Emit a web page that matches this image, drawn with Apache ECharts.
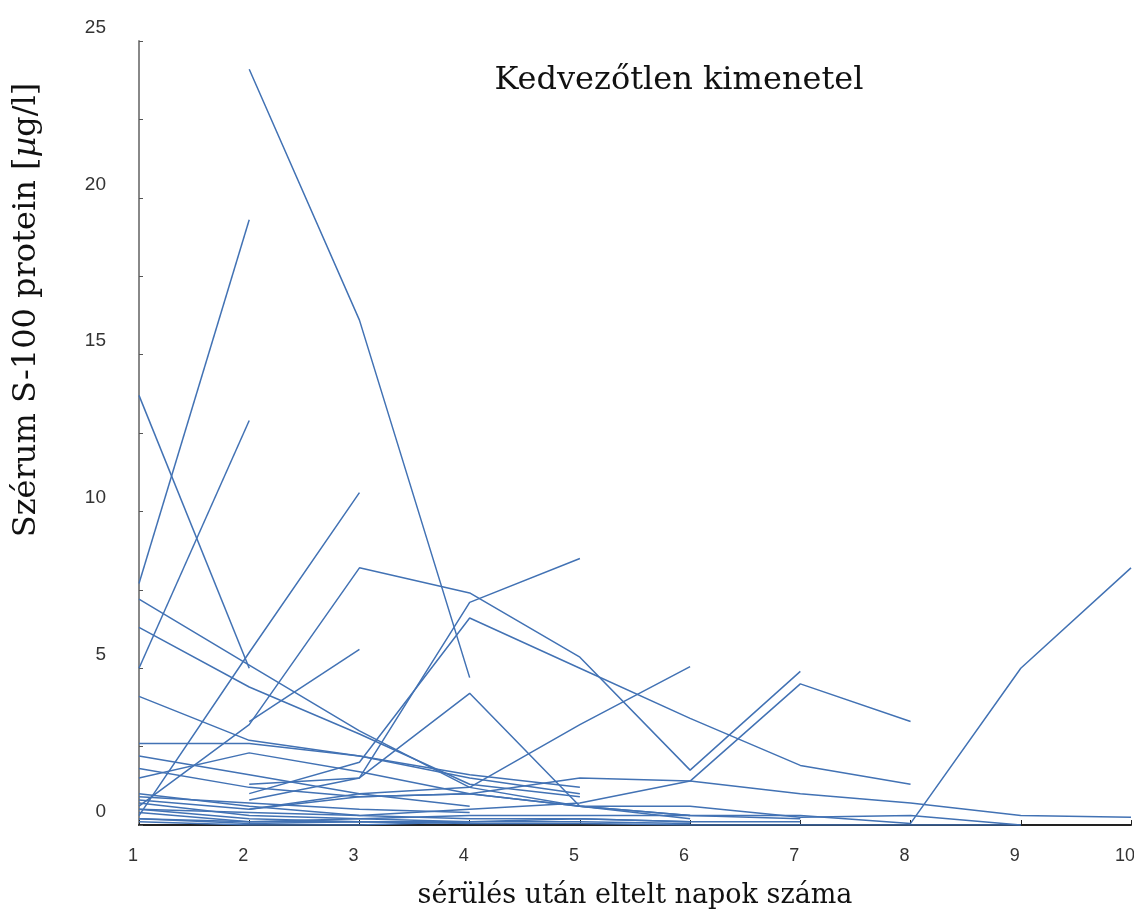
<!DOCTYPE html>
<html>
<head>
<meta charset="utf-8">
<script src="https://cdn.jsdelivr.net/npm/echarts@6/dist/echarts.min.js"></script>
<style>html,body{margin:0;padding:0;background:#fff;}#c{width:1134px;height:916px;}</style>
</head>
<body>
<div id="c"></div>
<script>
// Days after injury (x axis)
const days = [1, 2, 3, 4, 5, 6, 7, 8, 9, 10];
// Y axis tick values
const yTicks = [0, 5, 10, 15, 20, 25];
// Each patient: S-100 values per day (null = no measurement)
const p01 = [null, 24.1, 16.1, 4.7];
const p02 = [7.7, 19.3];
const p03 = [13.7, 5.0];
const p04 = [5.0, 12.9];
const p05 = [0.3, 5.5, 10.6];
const p06 = [null, 3.3, 5.6];
const p07 = [0.6, 3.2, 8.2, 7.4, 5.35, 1.75, 4.9];
const p08 = [7.2, 5.1, 3.0, 1.2, 0.6, 0.3, 0.2];
const p09 = [6.3, 4.4, 2.9, 1.3, 0.9];
const p10 = [4.1, 2.7, 2.2, 1.6, 1.2];
const p11 = [2.6, 2.6, 2.2, 1.5, 1.0];
const p12 = [1.5, 2.3, 1.7, 1.0, 0.6, 0.2];
const p13 = [2.2, 1.6, 1.0, 1.2, 3.2, 5.05];
const p14 = [null, 1.3, 1.5, 7.1, 8.5];
const p15 = [null, 1.0, 2.0, 6.6, 5.0, 3.4, 1.9, 1.3];
const p16 = [null, 0.8, 1.5, 4.2, 0.6, 0.3];
const p17 = [null, 0.5, 0.9, 1.0, 1.5, 1.4, 1.0, 0.7, 0.3, 0.25];
const p18 = [0.5, 0.4, 0.3, 0.5, 0.7, 1.4, 4.5, 3.3];
const p19 = [0.2, 0.1, 0.2, 0.3, 0.3, 0.3, 0.3, 0.05, 5.0, 8.2];
const p20 = [0.8, 0.5, 1.0, 0.6];
const p21 = [0.7, 0.3, 0.2, 0.1, 0.1, 0.05];
const p22 = [0.5, 0.2, 0.1, 0.05, 0.05, 0.0, 0.0, 0.0, 0.0];
const p23 = [0.4, 0.1, 0.1, 0.1, 0.2, 0.1];
const p24 = [0.2, 0.05, 0.1, 0.1];
const p25 = [1.0, 0.6, 0.3, 0.2, 0.2, 0.1, 0.1];
const p26 = [0.1, 0.0, 0.0, 0.1];
const p27 = [1.8, 1.2, 0.9, 1.0, 0.6, 0.6, 0.25, 0.3, 0.0];
const p28 = [0.9, 0.7, 0.5, 0.4];

const patients = [p01,p02,p03,p04,p05,p06,p07,p08,p09,p10,p11,p12,p13,p14,p15,p16,p17,p18,p19,p20,p21,p22,p23,p24,p25,p26,p27,p28];

const series = patients.map(function (vals) {
  const pts = [];
  vals.forEach(function (v, i) { if (v !== null) pts.push([days[i], v]); });
  return {
    type: 'line', data: pts, showSymbol: false, silent: true,
    lineStyle: { color: '#4272b4', width: 1.5 }
  };
});

const chart = echarts.init(document.getElementById('c'), null, { renderer: 'canvas' });
chart.setOption({
  animation: false,
  backgroundColor: '#ffffff',
  grid: { left: 139, right: 3, top: 41, bottom: 91, containLabel: false, outerBoundsMode: 'none' },
  title: {
    text: 'Kedvezőtlen kimenetel',
    left: 674, top: 60, textAlign: 'center',
    textStyle: { fontFamily: 'DejaVu Serif', fontSize: 32, fontWeight: 'normal', color: '#111' }
  },
  xAxis: {
    type: 'value', min: 1, max: 10, interval: 1,
    name: 'sérülés után eltelt napok száma',
    nameLocation: 'middle', nameGap: 57,
    nameTextStyle: { fontFamily: 'DejaVu Serif', fontSize: 27, color: '#111' },
    axisLine: { show: true, lineStyle: { color: '#222', width: 2 } },
    axisTick: { show: true, inside: true, length: 5, lineStyle: { color: '#222' } },
    axisLabel: { margin: 22, fontSize: 18, color: '#333', fontFamily: 'Liberation Sans', padding: [0, 12, 0, 0],
      formatter: function (v) { return days.indexOf(v) >= 0 ? String(v) : ''; } },
    splitLine: { show: false }
  },
  yAxis: {
    type: 'value', min: 0, max: 25, interval: 2.5,
    axisLine: { show: true, lineStyle: { color: '#888', width: 2 } },
    axisTick: { show: true, inside: true, length: 4, lineStyle: { color: '#555' } },
    axisLabel: { margin: 33, fontSize: 19, color: '#333', fontFamily: 'Liberation Sans',
      verticalAlign: 'bottom', padding: [0, 0, 4, 0],
      formatter: function (v) { return yTicks.indexOf(v) >= 0 ? String(v) : ''; } },
    splitLine: { show: false }
  },
  graphic: [{
    type: 'text', x: 27, y: 310, rotation: Math.PI / 2,
    style: {
      text: 'Szérum S-100 protein [{i|µ}g/l]',
      rich: { i: { fontFamily: 'DejaVu Serif', fontStyle: 'italic', fontSize: 32, fill: '#111' } },
      font: '32px "DejaVu Serif"', fill: '#111', align: 'center', verticalAlign: 'middle'
    }
  }],
  series: series
});
</script>
</body>
</html>
